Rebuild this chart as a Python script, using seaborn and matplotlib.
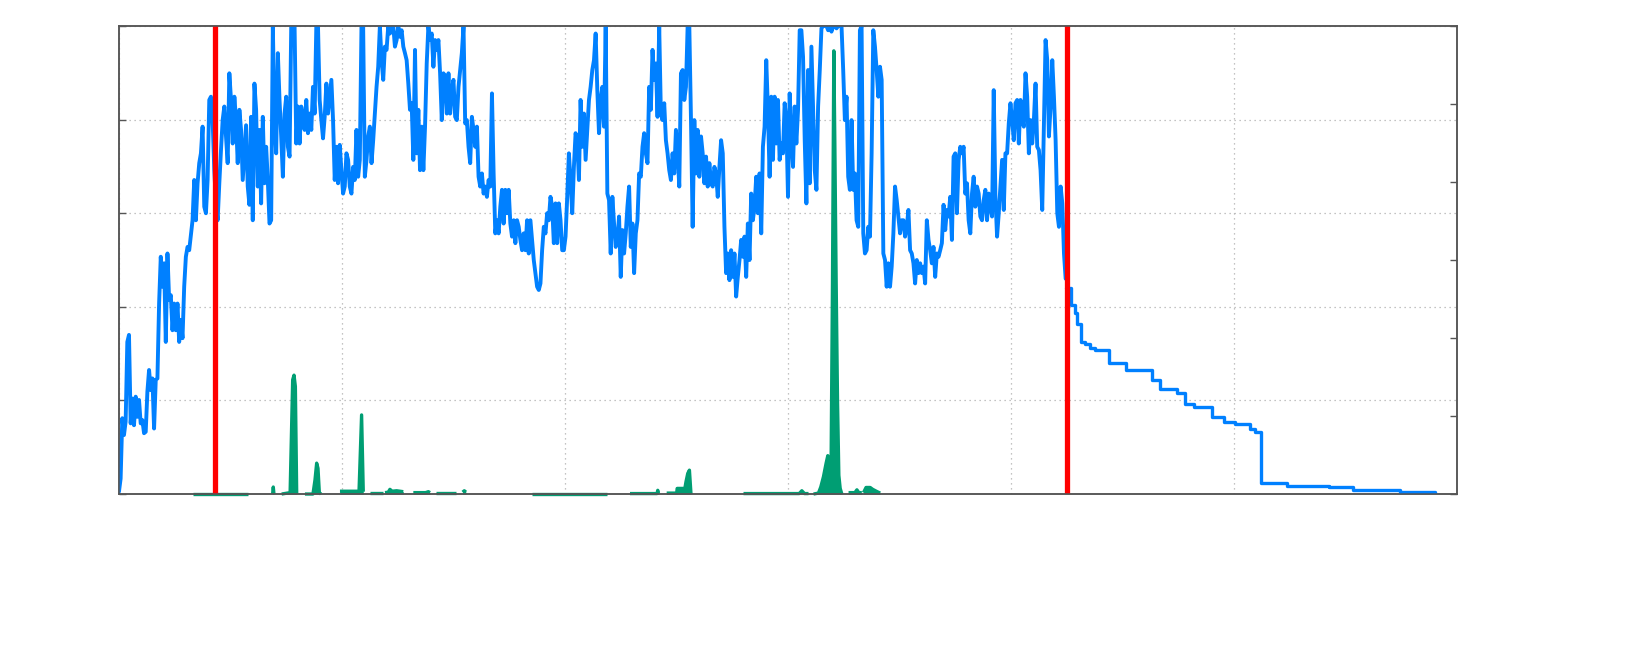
import numpy as np
import pandas as pd
import matplotlib
matplotlib.use("Agg")
import matplotlib.pyplot as plt
import seaborn as sns

# blue series, sampled every STEP units along x
STEP = 1.5
blue_y = [
    0.5, 3.3, 16.2, 12.6, 15.5, 32.5, 34.0, 15.1, 20.4, 14.7, 20.8, 16.5, 20.1, 15.1, 15.8, 13.0,
    13.3, 21.9, 26.5, 22.2, 24.7, 14.0, 24.4, 24.7, 40.7, 50.7, 44.3, 49.3, 32.5, 51.4, 41.5, 42.5,
    35.0, 40.7, 35.0, 40.7, 32.5, 37.2, 33.3, 44.3, 50.7, 52.8, 52.1, 55.3, 58.5, 67.1, 58.5, 66.4,
    70.7, 72.8, 78.5, 61.4, 60.0, 67.1, 84.2, 84.9, 79.9, 69.2, 62.1, 58.5, 66.4, 73.5, 79.9, 82.8,
    76.4, 70.7, 89.9, 84.2, 74.9, 84.9, 79.9, 70.7, 82.1, 77.8, 67.1, 72.8, 78.8, 65.7, 61.8, 80.6,
    58.5, 87.7, 82.1, 65.7, 77.8, 62.1, 80.6, 66.4, 74.2, 67.1, 57.8, 58.5, 100, 79.9, 72.8, 94.2,
    84.2, 76.4, 67.8, 81.3, 84.9, 74.2, 72.1, 100, 100, 100, 74.9, 82.8, 74.9, 82.8, 80.6, 77.8,
    84.2, 77.1, 81.3, 77.8, 87.0, 81.3,
    # second stretch
    100, 100, 84.2, 79.9, 76.0, 80.6, 87.7, 81.3, 84.9, 88.5, 79.9, 67.1, 74.2, 66.4, 74.6, 69.2,
    64.2, 65.7, 72.8, 71.4, 65.7, 64.2, 69.9, 67.1, 77.8, 67.8, 71.4, 100, 100, 67.8, 71.4, 76.4,
    78.5, 70.7, 75.6, 81.3, 87.0, 91.3, 100, 92.7, 88.5, 95.6, 94.9, 100, 98.4, 99.1, 100, 95.6,
    97.0, 100, 97.7, 99.1, 95.6, 94.2, 92.7, 87.7, 82.1, 83.5, 71.4, 94.9, 72.8, 82.1, 69.2, 78.5,
    69.2, 78.5, 92.0, 100, 97.0, 98.4, 91.3, 97.0, 94.9, 97.0, 89.9, 79.9, 89.9, 89.2, 81.3, 89.9,
    81.3, 86.3, 88.5, 80.6, 79.9, 87.0, 90.6, 94.2, 100, 79.2, 79.9, 74.2, 70.7, 80.6, 77.8, 74.2,
    78.5, 67.8, 65.7, 68.5, 64.2, 65.7, 63.5, 67.1, 65.7, 85.6, 68.5, 55.7, 58.5, 55.7, 61.4, 65.0,
    57.8, 65.0, 60.0, 65.0, 57.8,
    # third stretch
    55.0, 58.5, 53.6, 58.5, 57.1, 54.3, 52.1, 55.7, 52.1, 58.5, 51.4, 58.5, 54.3, 50.0, 47.2, 44.3,
    43.6, 45.0, 52.1, 57.1, 55.7, 60.0, 58.5, 63.5, 61.4, 53.6, 62.1, 53.6, 62.1, 58.5, 52.1, 52.1,
    55.0, 63.5, 72.8, 67.1, 60.0, 69.9, 77.1, 75.6, 67.1, 84.2, 74.2, 81.3, 71.4, 77.8, 84.2, 87.0,
    90.6, 92.7, 98.4, 86.3, 77.1, 84.2, 87.0, 78.5, 100, 64.2, 62.8, 51.4, 63.5, 57.8, 52.8, 54.3,
    59.3, 46.4, 56.4, 51.4, 55.7, 61.4, 65.7, 52.8, 57.8, 47.2, 55.7, 58.5, 68.5, 67.8, 74.2, 77.1,
    72.8, 70.7, 87.0, 82.1, 94.9, 88.5, 92.0, 80.6, 100, 81.3, 79.9, 83.5, 75.6, 72.8, 69.2, 67.1,
    72.8, 68.5, 77.8, 72.8, 65.7, 89.9, 90.6, 84.2, 87.0, 100, 100, 79.9, 57.1, 79.9, 68.5, 77.8,
    67.8, 76.4, 72.8, 66.4, 72.1,
    # fourth stretch
    65.7, 70.7, 66.4, 65.7, 69.9, 68.5, 63.5, 69.9, 75.6, 72.8, 57.1, 47.2, 51.4, 45.7, 52.1, 46.4,
    51.4, 42.2, 46.4, 50.0, 54.3, 50.7, 55.0, 46.4, 57.8, 50.0, 64.2, 58.5, 61.4, 67.8, 60.0, 68.5,
    55.7, 74.2, 78.5, 92.7, 82.1, 67.8, 84.9, 71.4, 84.9, 74.9, 84.2, 71.4, 74.9, 72.8, 83.5, 79.9,
    63.5, 85.6, 76.4, 69.9, 82.8, 74.9, 82.1, 99.1, 99.1, 93.4, 75.6, 62.1, 90.6, 66.4, 95.6, 82.1,
    69.2, 65.0, 82.8, 90.6, 99.5, 100, 100, 100, 99.1, 100, 98.8, 100, 100, 99.5, 100, 100,
    100, 90.6, 79.9, 84.9, 67.8, 65.0, 79.9, 65.0, 68.5, 58.5, 57.1, 99.1, 100, 55.7, 51.4, 52.1,
    57.1, 55.0, 72.8, 99.1, 95.6, 90.6, 84.9, 91.3, 88.5, 51.4, 50.0, 44.3, 49.3, 44.3, 48.6, 55.7,
    65.7, 62.8, 59.3, 55.7, 58.5,
    # fifth stretch
    58.5, 55.0, 57.1, 60.7, 52.1, 51.4, 49.3, 45.0, 50.0, 47.2, 49.3, 47.2, 48.6, 45.0, 58.5, 54.3,
    52.1, 49.3, 52.8, 46.4, 51.4, 50.7, 52.1, 53.6, 61.8, 56.4, 60.7, 59.3, 63.5, 54.3, 72.1, 72.8,
    60.0, 71.4, 74.2, 72.8, 74.2, 64.2, 66.4, 58.5, 55.7, 64.2, 67.8, 61.4, 65.7, 64.2, 59.3, 58.5,
    62.8, 65.0, 58.5, 64.2, 61.4, 59.3, 86.3, 63.5, 55.0, 60.0, 65.7, 71.4, 60.7, 72.8, 72.8, 79.2,
    83.5, 79.9, 75.6, 83.5, 84.2, 74.9, 84.2, 79.9, 78.5, 89.9, 84.9, 72.8, 79.9, 74.9, 79.9, 87.7,
    74.2, 73.5, 69.2, 60.7, 78.5, 97.0, 92.7, 76.4, 82.8, 92.7, 84.9, 75.6, 60.0, 57.1, 65.7, 62.1,
    51.4, 46.0,
]

# stepped decay after the second marker
tail_x = [849, 853.7, 857.6, 859.1, 862.6, 866.5, 871.0, 875.5, 887.5, 903.0, 926.3, 933.8, 948.8,
          955.6, 963.7, 980.1, 990.6, 1001.1, 1014.5, 1019.0, 1024.4, 1047.4, 1084.8, 1106.6,
          1149.1, 1180.5]
tail_y = [44.0, 40.4, 38.6, 36.3, 32.5, 32.0, 31.1, 30.8, 28.0, 26.5, 24.4, 22.4, 21.5,
          19.2, 18.5, 16.5, 15.4, 14.9, 14.0, 13.3, 2.3, 1.8, 1.6, 0.85, 0.35, 0.14]

# green series, split into runs (gaps between them have no data)
green_seg = ([0] * 2 + [1] * 3 + [2] * 6 + [3] * 7 + [4] * 4 + [5] * 2 + [6] * 6 + [7] * 4 +
             [8] * 2 + [9] * 3 + [10] * 2 + [11] * 4 + [12] * 8 + [13] * 5 + [14] * 16 +
             [15] * 5 + [16] * 6)
green_x = [66.7, 116.0,
           137.8, 138.4, 139.0,
           145.9, 153.5, 155.8, 157.0, 158.2, 159.4,
           166.8, 174.0, 175.8, 177.3, 178.5, 179.7, 181.2,
           198.2, 215.3, 217.6, 219.1,
           225.1, 237.1,
           238.6, 241.5, 243.0, 245.0, 249.0, 255.0,
           264.0, 275.0, 277.5, 279.0,
           284.3, 302.0,
           308.2, 309.7, 311.2,
           370.1, 437.4,
           458.3, 482.6, 483.2, 483.8,
           491.2, 500.2, 500.6, 507.5, 508.5, 510.1, 511.6, 513.0,
           560.1, 610.0, 612.4, 614.8, 618.4,
           622.9, 627.3, 629.4, 631.8, 634.2, 635.7, 637.2, 638.7, 639.9, 641.1, 642.0, 643.2,
           644.4, 645.6, 646.8, 648.3,
           654.3, 660.0, 661.8, 663.5, 666.2,
           667.7, 670.0, 673.7, 676.0, 680.0, 682.7]
green_y = [0, 0,
           0, 1.5, 0,
           0, 0.3, 24.4, 25.4, 23.0, 0,
           0, 0, 3.0, 6.6, 5.5, 0.3, 0,
           0.6, 0.6, 16.9, 0.5,
           0.3, 0.3,
           0.3, 0.4, 1.0, 0.6, 0.7, 0.5,
           0.3, 0.3, 0.5, 0.3,
           0.2, 0.2,
           0.4, 0.7, 0.4,
           0, 0,
           0.1, 0.1, 0.8, 0.1,
           0.2, 0.2, 1.2, 1.2, 2.6, 4.4, 5.1, 0,
           0.1, 0.1, 0.7, 0.1, 0.1,
           0, 0.2, 1.5, 3.7, 6.6, 8.2, 6.0, 8.0, 45.0, 94.7, 75.0, 45.0,
           20.0, 4.0, 1.2, 0,
           0.3, 0.3, 0.9, 0.3, 0.3,
           0.3, 1.4, 1.4, 1.0, 0.5, 0.2]

markers = [86.1, 850.0]

BLUE = "#0080ff"
GREEN = "#009e73"
RED = "#ff0000"

sns.set_style("white")

blue = pd.DataFrame({"x": STEP * np.arange(len(blue_y)), "y": blue_y})
green = pd.DataFrame({"x": green_x, "y": green_y, "seg": green_seg})

fig = plt.figure(figsize=(16.34, 6.54), dpi=100)
ax = fig.add_axes([0.0728, 0.2446, 0.8189, 0.7156])

for seg, part in green.groupby("seg"):
    ax.fill_between(part["x"], 0, part["y"], color=GREEN, lw=0, zorder=2)
sns.lineplot(data=green, x="x", y="y", units="seg", estimator=None, color=GREEN,
             lw=2.4, ax=ax, zorder=2, sort=False)
for line in ax.get_lines():
    line.set_clip_on(False)
    line.set_solid_capstyle("butt")

sns.lineplot(data=blue, x="x", y="y", estimator=None, color=BLUE, lw=2.8, ax=ax,
             zorder=3, sort=False)
sns.lineplot(x=tail_x, y=tail_y, estimator=None, color=BLUE, lw=2.4, ax=ax,
             zorder=3, drawstyle="steps-post")

for m in markers:
    ax.axvline(m, color=RED, lw=3.8, zorder=4)

ax.set_xlim(0, 1200)
ax.set_ylim(0, 100)
ax.set_xticks(np.arange(0, 1201, 200))
ax.set_yticks(np.arange(0, 101, 20))
ax.set_xlabel("")
ax.set_ylabel("")
ax.grid(True, linestyle=(0, (1, 3)), color="#b0b0b0", lw=0.9)
ax.tick_params(axis="y", direction="in", length=5, width=1, color="#555555",
               labelleft=False, left=True)
ax.tick_params(axis="x", length=0, labelbottom=False)
for s in ax.spines.values():
    s.set_color("#555555")
    s.set_linewidth(1.1)

ax2 = ax.twinx()
ax2.set_ylim(0, 6)
ax2.set_yticks(np.arange(0, 7))
ax2.tick_params(axis="y", direction="in", length=5, width=1, color="#555555",
                labelright=False)
ax2.grid(False)
for s in ax2.spines.values():
    s.set_color("#555555")
    s.set_linewidth(1.1)

fig.savefig("out.png", dpi=100)
